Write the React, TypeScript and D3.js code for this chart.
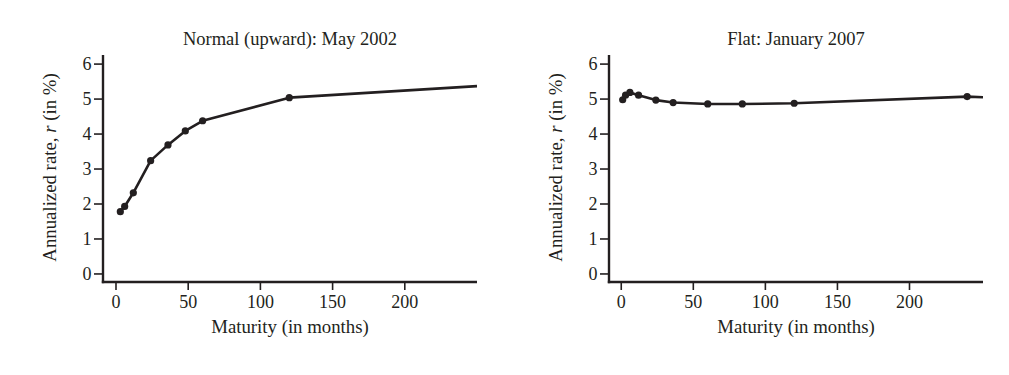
import React from "react";
import * as d3 from "d3";

const xTicks = [0, 50, 100, 150, 200];
const yTicks = [0, 1, 2, 3, 4, 5, 6];

const normalMonths = [3, 6, 12, 24, 36, 48, 60, 120];
const normalRates = [1.78, 1.93, 2.32, 3.24, 3.69, 4.09, 4.38, 5.04];
const normalEnd = { month: 250, rate: 5.37 };

const flatMonths = [1, 3, 6, 12, 24, 36, 60, 84, 120, 240];
const flatRates = [4.98, 5.11, 5.19, 5.11, 4.97, 4.9, 4.86, 4.86, 4.88, 5.07];
const flatEnd = { month: 251, rate: 5.05 };

const ink = "#231f20";
const font = "'Liberation Serif', 'DejaVu Serif', serif";

type PanelProps = {
  title: string;
  months: number[];
  rates: number[];
  end: { month: number; rate: number };
  x0: number;
  x1: number;
  xMin: number;
  xMax: number;
};

function Panel({ title, months, rates, end, x0, x1, xMin, xMax }: PanelProps) {
  const x = d3.scaleLinear().domain([xMin, xMax]).range([x0, x1]);
  const y = d3.scaleLinear().domain([-0.23, 6.26]).range([282, 55]);
  const pts: [number, number][] = months.map((m, i) => [m, rates[i]]);
  const linePts: [number, number][] = [...pts, [end.month, end.rate]];
  const line = d3
    .line<[number, number]>()
    .x((d) => x(d[0]))
    .y((d) => y(d[1]));
  const axX = x(xMin);
  const axY = y(-0.23);
  const midX = (x0 + x1) / 2;
  return (
    <g fontFamily={font} fill={ink}>
      <text x={midX} y={45} textAnchor="middle" fontSize={18.5}>
        {title}
      </text>
      {/* axes */}
      <line x1={axX} x2={axX} y1={55} y2={axY + 1.2} stroke={ink} strokeWidth={2.4} />
      <line x1={axX - 1.2} x2={x1} y1={axY} y2={axY} stroke={ink} strokeWidth={2.4} />
      {yTicks.map((t) => (
        <g key={"y" + t}>
          <line x1={axX - 9} x2={axX} y1={y(t)} y2={y(t)} stroke={ink} strokeWidth={1.6} />
          <text x={axX - 11.5} y={y(t)} dy="0.34em" textAnchor="end" fontSize={18}>
            {t}
          </text>
        </g>
      ))}
      {xTicks.map((t) => (
        <g key={"x" + t}>
          <line x1={x(t)} x2={x(t)} y1={axY} y2={axY + 8} stroke={ink} strokeWidth={1.6} />
          <text x={x(t)} y={308} textAnchor="middle" fontSize={18}>
            {t}
          </text>
        </g>
      ))}
      <text x={midX} y={333} textAnchor="middle" fontSize={18.8}>
        Maturity (in months)
      </text>
      <text
        transform={`translate(${axX - 47},${167.5}) rotate(-90)`}
        textAnchor="middle"
        fontSize={18.8}
      >
        Annualized rate, <tspan fontStyle="italic">r</tspan> (in %)
      </text>
      <path d={line(linePts) || ""} fill="none" stroke={ink} strokeWidth={2.6} strokeLinejoin="round" />
      {pts.map((p, i) => (
        <circle key={i} cx={x(p[0])} cy={y(p[1])} r={3.6} fill={ink} />
      ))}
    </g>
  );
}

export default function App() {
  return (
    <svg
      width={1009}
      height={375}
      style={{ position: "absolute", left: 0, top: 0, background: "#fff" }}
    >
      <rect width={1009} height={375} fill="#fff" />
      <Panel
        title="Normal (upward): May 2002"
        months={normalMonths}
        rates={normalRates}
        end={normalEnd}
        x0={103}
        x1={477}
        xMin={-9}
        xMax={250}
      />
      <Panel
        title="Flat: January 2007"
        months={flatMonths}
        rates={flatRates}
        end={flatEnd}
        x0={609}
        x1={983}
        xMin={-8.5}
        xMax={251}
      />
    </svg>
  );
}
